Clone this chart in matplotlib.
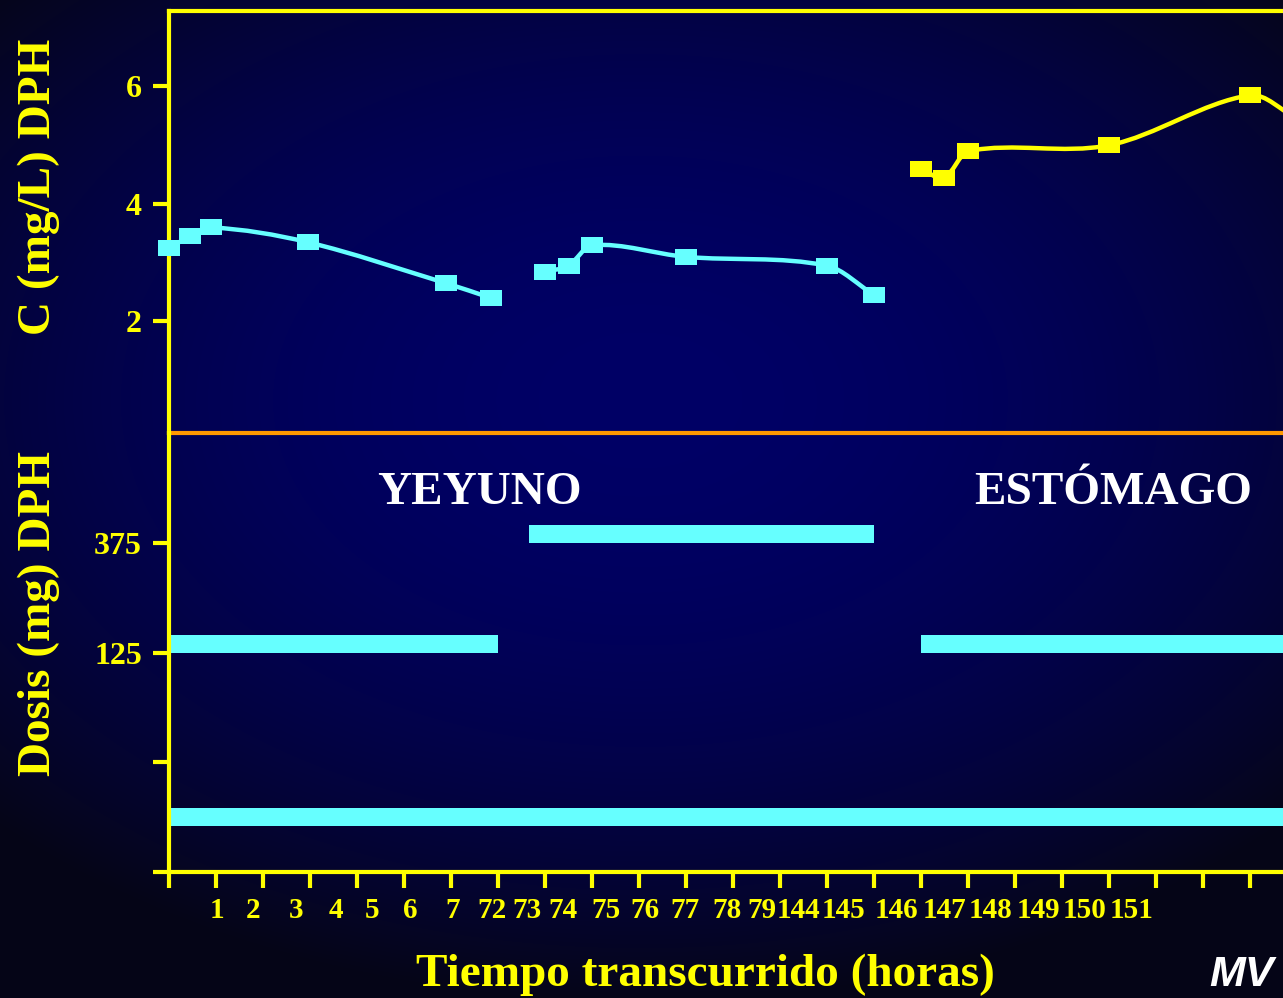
"""Fenitoína (DPH): concentración plasmática y dosis según vía de administración."""

import matplotlib

matplotlib.use("Agg")

import matplotlib.pyplot as plt
import numpy as np
from matplotlib.patches import PathPatch
from matplotlib.path import Path

# Time axis: one unit per tick mark
JEJUNUM_1_T = [0, 0.45, 0.9, 2.95, 5.9, 6.85]
JEJUNUM_1_C = [3.25, 3.45, 3.6, 3.35, 2.65, 2.4]
JEJUNUM_2_T = [8, 8.5, 9, 11, 14, 15]
JEJUNUM_2_C = [2.85, 2.95, 3.3, 3.1, 2.95, 2.45]
STOMACH_T = [16, 16.5, 17, 20, 23, 24]
STOMACH_C = [4.6, 4.45, 4.9, 5.0, 5.85, 5.45]

# Dose periods (mg DPH)
DOSE_START = [0, 7.65, 16]
DOSE_END = [7, 15, 24.5]
DOSE_MG = [125, 375, 125]

# Continuous enteral feeding band, drawn under the dose bars
FEED_START = 0
FEED_END = 24.5
FEED_LEVEL = -270

CONC_TICKS = [2, 4, 6]
DOSE_TICKS = [-375, -125, 125, 375]
DOSE_TICK_LABELS = ["", "", "125", "375"]

HOUR_LABELS = ["1", "2", "3", "4", "5", "6", "7", "72", "73", "74", "75", "76",
               "77", "78", "79", "144", "145", "146", "147", "148", "149", "150", "151"]
HOUR_LABEL_POS = [1.02, 1.79, 2.70, 3.55, 4.32, 5.13, 6.04, 6.87, 7.62, 8.38, 9.30,
                  10.13, 10.98, 11.87, 12.62, 13.40, 14.36, 15.47, 16.49, 17.47,
                  18.49, 19.47, 20.49]

W, H = 1283, 998
LEFT, TOP, MID, BOTTOM = 169, 11, 433, 872
UNIT = 47  # px per tick
XMAX = 24.5
CONC_LIM = (0.102, 7.285)
DOSE_LIM = (-375, 625)
BAR_H = 41

YELLOW = "#ffff00"
CYAN = "#66ffff"
ORANGE = "#ff9900"
SERIF = "Liberation Serif"

plt.rcParams["font.family"] = [SERIF, "DejaVu Serif"]
plt.rcParams["font.weight"] = "bold"

RECT = [(-1.5, -1), (1.5, -1), (1.5, 1), (-1.5, 1), (-1.5, -1)]


def smooth_path(x, y):
    """Cubic Hermite curve through the points (x increasing), as Bezier segments."""
    x = np.asarray(x, float)
    y = np.asarray(y, float)
    n = len(x)
    slopes = np.empty(n)
    slopes[0] = (y[1] - y[0]) / (x[1] - x[0])
    slopes[-1] = (y[-1] - y[-2]) / (x[-1] - x[-2])
    for i in range(1, n - 1):
        slopes[i] = (y[i + 1] - y[i - 1]) / (x[i + 1] - x[i - 1])
    verts = [(x[0], y[0])]
    codes = [Path.MOVETO]
    for i in range(n - 1):
        h = (x[i + 1] - x[i]) / 3
        verts += [(x[i] + h, y[i] + h * slopes[i]),
                  (x[i + 1] - h, y[i + 1] - h * slopes[i + 1]),
                  (x[i + 1], y[i + 1])]
        codes += [Path.CURVE4] * 3
    return Path(verts, codes)


def draw_series(ax, t, c, color):
    ax.add_patch(PathPatch(smooth_path(t, c), fill=False, edgecolor=color,
                           lw=3.2, zorder=3, clip_on=False, capstyle="round"))
    ax.plot(t, c, ls="none", marker=RECT, ms=16.5, color=color, mew=0,
            zorder=4, clip_on=False)


def px_axes(fig, top_px, bottom_px):
    return fig.add_axes([LEFT / W, 1 - bottom_px / H, XMAX * UNIT / W,
                         (bottom_px - top_px) / H])


fig = plt.figure(figsize=(W / 100, H / 100), dpi=100)

# dark blue radial backdrop
bg = fig.add_axes([0, 0, 1, 1], zorder=-1)
yy, xx = np.mgrid[0:H, 0:W]
glow = np.clip(1 - (((xx - 640) / 900) ** 2 + ((yy - 400) / 600) ** 2), 0, 1)
rgb = np.dstack([6 * (1 - glow), 6 * (1 - glow), 24 + 78 * glow]) / 255
bg.imshow(rgb, extent=(0, 1, 0, 1), aspect="auto", origin="upper")
bg.set_xlim(0, 1)
bg.set_ylim(0, 1)
bg.axis("off")

ax_c = px_axes(fig, TOP, MID)
ax_d = px_axes(fig, MID, BOTTOM)

for ax in (ax_c, ax_d):
    ax.set_facecolor("none")
    ax.set_xlim(0, XMAX)
    ax.spines["right"].set_visible(False)
    ax.spines["left"].set_color(YELLOW)
    ax.spines["left"].set_linewidth(3)
    ax.tick_params(axis="y", direction="out", length=11.5, width=3, color=YELLOW,
                   labelcolor=YELLOW, labelsize=23, pad=8)

# concentration panel
ax_c.set_ylim(*CONC_LIM)
ax_c.spines["top"].set_color(YELLOW)
ax_c.spines["top"].set_linewidth(3)
ax_c.spines["bottom"].set_color(ORANGE)
ax_c.spines["bottom"].set_linewidth(3)
ax_c.set_yticks(CONC_TICKS)
ax_c.tick_params(axis="x", bottom=False, labelbottom=False)

draw_series(ax_c, JEJUNUM_1_T, JEJUNUM_1_C, CYAN)
draw_series(ax_c, JEJUNUM_2_T, JEJUNUM_2_C, CYAN)
draw_series(ax_c, STOMACH_T, STOMACH_C, YELLOW)

# dose panel
ax_d.set_ylim(*DOSE_LIM)
ax_d.spines["top"].set_visible(False)
ax_d.spines["bottom"].set_color(YELLOW)
ax_d.spines["bottom"].set_linewidth(3)
ax_d.set_yticks(DOSE_TICKS, labels=DOSE_TICK_LABELS)
ax_d.set_xticks(np.arange(0, 25))
ax_d.set_xticklabels([])
ax_d.set_xticks(HOUR_LABEL_POS, labels=HOUR_LABELS, minor=True)
ax_d.tick_params(axis="x", which="major", direction="out", length=11.5, width=3,
                 color=YELLOW)
ax_d.tick_params(axis="x", which="minor", length=0, labelcolor=YELLOW,
                 labelsize=21, pad=18)

for start, end, mg in zip(DOSE_START, DOSE_END, DOSE_MG):
    ax_d.broken_barh([(start, end - start)], (mg, BAR_H), facecolor=CYAN, zorder=2)
ax_d.broken_barh([(FEED_START, FEED_END - FEED_START)], (FEED_LEVEL, BAR_H),
                 facecolor=CYAN, zorder=2)

# labels
fig.text(479 / W, 1 - 504 / H, "YEYUNO", color="white", fontsize=34,
         ha="center", va="baseline")
fig.text(1113 / W, 1 - 504 / H, "ESTÓMAGO", color="white", fontsize=34,
         ha="center", va="baseline")
fig.text(39 / W, 1 - 187 / H, "C (mg/L) DPH", color=YELLOW, fontsize=34,
         rotation=90, ha="center", va="center")
fig.text(39 / W, 1 - 613 / H, "Dosis (mg) DPH", color=YELLOW, fontsize=34,
         rotation=90, ha="center", va="center")
fig.text(705 / W, 2 / H, "Tiempo transcurrido (horas)", color=YELLOW, fontsize=34,
         ha="center", va="bottom")
fig.text(1274 / W, 3 / H, "MV", color="white", fontsize=31, fontstyle="italic",
         family="Liberation Sans", ha="right", va="bottom")

fig.savefig("out.png", dpi=100)
